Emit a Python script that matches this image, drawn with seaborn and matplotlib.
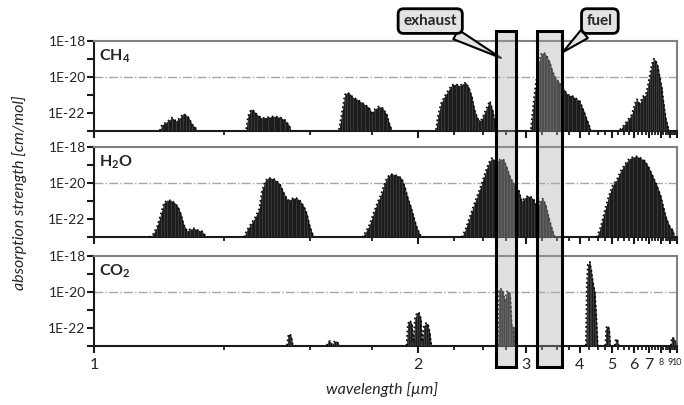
import numpy as np
import pandas as pd
import seaborn as sns
import matplotlib.pyplot as plt
import matplotlib.transforms as mtransforms
from matplotlib.patches import Rectangle
from matplotlib.ticker import FixedLocator, FuncFormatter, LogLocator, NullFormatter

sns.set_style("ticks")
plt.rcParams["font.family"] = ["Lato", "DejaVu Sans"]
plt.rcParams["mathtext.fontset"] = "custom"
plt.rcParams["mathtext.rm"] = "Lato"
plt.rcParams["mathtext.bf"] = "Lato:bold"
plt.rcParams["mathtext.it"] = "Lato:italic"

# band envelopes: wavelength [um], log10(strength [cm/mol])
ch4_wl = [
    [1.113, 1.117, 1.129, 1.137, 1.145, 1.153, 1.159, 1.166, 1.172, 1.178, 1.187],
    [1.307, 1.312, 1.320, 1.328, 1.336, 1.350, 1.367, 1.385, 1.403, 1.418, 1.431, 1.437],
    [1.608, 1.620, 1.632, 1.641, 1.653, 1.666, 1.683, 1.701, 1.719, 1.737, 1.751, 1.766,
     1.785, 1.805, 1.825, 1.841, 1.851],
    [2.118, 2.132, 2.153, 2.175, 2.204, 2.235, 2.266, 2.298, 2.323, 2.348, 2.374, 2.400,
     2.427, 2.455, 2.483, 2.512, 2.541, 2.571, 2.602, 2.634],
    [3.071, 3.101, 3.130, 3.161, 3.192, 3.224, 3.273, 3.323, 3.375, 3.429, 3.484, 3.560,
     3.640, 3.724, 3.812, 3.904, 4.000, 4.101, 4.208, 4.291],
    [5.312, 5.492, 5.684, 5.891, 6.056, 6.171, 6.353, 6.546, 6.750, 6.894, 7.044, 7.200,
     7.364, 7.535, 7.714, 7.902, 8.100, 8.308, 8.526, 8.877],
]
ch4_exp = [
    [-23.0, -22.68, -22.46, -22.27, -22.46, -22.29, -22.07, -22.13, -22.29, -22.63, -22.85],
    [-22.9, -22.2, -21.82, -21.9, -22.1, -22.3, -22.25, -22.2, -22.25, -22.4, -22.7, -22.95],
    [-22.95, -22.0, -21.0, -20.88, -20.95, -21.15, -21.25, -21.4, -21.55, -21.7, -22.0, -21.8,
     -21.65, -21.75, -22.1, -22.7, -22.95],
    [-22.95, -22.2, -21.5, -21.15, -20.8, -20.45, -20.42, -20.5, -20.38, -20.33, -20.6, -21.1,
     -21.9, -22.35, -22.45, -22.1, -21.7, -21.35, -21.9, -22.8],
    [-22.9, -21.8, -20.8, -20.0, -19.2, -18.75, -18.65, -18.85, -19.2, -19.75, -20.1, -20.35,
     -20.7, -21.0, -21.05, -21.2, -21.35, -21.9, -22.5, -22.95],
    [-22.95, -22.7, -22.4, -22.1, -21.5, -21.25, -21.5, -21.1, -21.0, -20.5, -19.9, -19.3,
     -19.0, -19.1, -19.4, -20.0, -20.6, -21.5, -22.3, -22.95],
]

h2o_wl = [
    [1.093, 1.100, 1.108, 1.115, 1.121, 1.127, 1.135, 1.143, 1.149, 1.155, 1.161, 1.168,
     1.174, 1.183, 1.191, 1.200, 1.209],
    [1.301, 1.309, 1.320, 1.331, 1.342, 1.350, 1.359, 1.367, 1.376, 1.385, 1.394, 1.403,
     1.415, 1.427, 1.440, 1.453, 1.466, 1.480, 1.490, 1.500, 1.514],
    [1.705, 1.723, 1.742, 1.761, 1.780, 1.795, 1.810, 1.825, 1.841, 1.857, 1.873, 1.889,
     1.906, 1.923, 1.940, 1.958, 1.976, 1.994, 2.019],
    [2.314, 2.348, 2.382, 2.418, 2.455, 2.492, 2.531, 2.561, 2.592, 2.624, 2.656, 2.689,
     2.723, 2.757, 2.793, 2.830, 2.867, 2.906, 2.946, 2.986, 3.028, 3.071, 3.115, 3.161,
     3.208, 3.256, 3.306, 3.358, 3.411, 3.465],
    [4.469, 4.596, 4.730, 4.872, 5.023, 5.184, 5.355, 5.539, 5.735, 5.945, 6.171, 6.416,
     6.680, 6.968, 7.281, 7.624, 8.000, 8.308, 8.640, 9.000, 9.391, 9.672],
]
h2o_exp = [
    [-23.0, -22.85, -22.4, -21.7, -21.1, -20.95, -20.95, -21.1, -21.3, -21.7, -22.3, -22.65,
     -22.55, -22.5, -22.6, -22.65, -22.95],
    [-23.0, -22.6, -22.25, -21.9, -21.45, -20.4, -19.9, -19.7, -19.72, -19.76, -19.9, -20.05,
     -20.55, -20.95, -20.85, -20.8, -20.95, -21.3, -21.7, -22.4, -23.0],
    [-23.0, -22.7, -22.25, -21.6, -21.0, -20.65, -20.1, -19.7, -19.5, -19.5, -19.55, -19.6,
     -19.75, -20.2, -20.8, -21.3, -21.9, -22.45, -22.95],
    [-23.0, -22.5, -21.85, -21.2, -20.6, -20.0, -19.3, -18.85, -18.6, -18.7, -18.75, -18.65,
     -18.7, -19.1, -19.6, -19.95, -20.2, -20.4, -21.0, -20.8, -20.7, -20.75, -20.9, -21.45,
     -21.0, -20.85, -21.2, -21.9, -22.5, -23.0],
    [-23.0, -22.4, -21.5, -20.7, -20.1, -19.8, -19.3, -18.95, -18.65, -18.55, -18.5, -18.6,
     -18.75, -19.1, -19.6, -20.1, -20.7, -21.4, -22.0, -22.4, -22.6, -23.0],
]

co2_wl = [
    [1.424, 1.429, 1.434, 1.438, 1.443],
    [1.561, 1.565, 1.573, 1.581, 1.588, 1.596, 1.604, 1.612],
    [1.932, 1.940, 1.952, 1.964, 1.973, 1.982, 1.994, 2.006, 2.019, 2.028, 2.038, 2.051,
     2.064, 2.077, 2.087],
    [2.656, 2.667, 2.689, 2.711, 2.734, 2.757, 2.781, 2.799, 2.817, 2.842, 2.855],
    [4.154, 4.181, 4.208, 4.263, 4.306, 4.349, 4.408, 4.454, 4.500],
    [4.747, 4.782, 4.836, 4.891, 4.928],
    [5.102, 5.143, 5.205, 5.268],
    [9.127, 9.257, 9.529, 9.818],
]
co2_exp = [
    [-23.0, -22.4, -22.35, -22.5, -23.0],
    [-23.0, -22.8, -22.75, -22.95, -22.8, -22.75, -22.85, -23.0],
    [-23.0, -21.8, -21.6, -21.8, -22.8, -21.5, -21.2, -21.15, -21.5, -22.8, -21.9, -21.75,
     -21.8, -22.3, -23.0],
    [-23.0, -19.9, -19.85, -19.95, -20.5, -20.0, -20.0, -20.2, -21.9, -21.95, -23.0],
    [-23.0, -19.5, -18.5, -18.35, -18.8, -19.45, -20.0, -21.3, -23.0],
    [-23.0, -22.0, -21.9, -22.1, -23.0],
    [-23.0, -22.65, -22.65, -23.0],
    [-23.0, -22.55, -22.6, -22.8],
]

species = ["CH$_\\mathbf{4}$", "H$_\\mathbf{2}$O", "CO$_\\mathbf{2}$"]
panel_wl = [ch4_wl, h2o_wl, co2_wl]
panel_exp = [ch4_exp, h2o_exp, co2_exp]

exhaust_band = (2.64, 2.865)
fuel_band = (3.165, 3.595)

x_major = [1, 2, 3, 4, 5, 6, 7, 8, 9, 10]
x_minor = np.arange(1.25, 10, 0.25)


# x axis runs linear in wavenumber, labelled in wavelength
def fwd(x):
    x = np.asarray(x, dtype=float)
    with np.errstate(divide="ignore", invalid="ignore"):
        return 1 - 1 / x


def inv(u):
    u = np.asarray(u, dtype=float)
    with np.errstate(divide="ignore", invalid="ignore"):
        return 1 / (1 - u)


def y_fmt(v, pos):
    e = int(round(np.log10(v)))
    return "1E%d" % e if e % 2 == 0 else ""


fig = plt.figure(figsize=(6.84, 4.05), dpi=100)
bottoms = [0.6773, 0.4141, 0.1469]
axes = []
for i in range(3):
    ax = fig.add_axes([0.1374, bottoms[i], 0.8523, 0.2222])
    ax.set_xscale("function", functions=(fwd, inv))
    ax.set_yscale("log")
    ax.set_xlim(1, 10)
    ax.set_ylim(1e-23, 1e-18)

    ax.axhline(1e-20, color="#a6a6a6", lw=1, ls="-.", zorder=1)

    rows = []
    for b, (wl, ex) in enumerate(zip(panel_wl[i], panel_exp[i])):
        s = 10.0 ** np.array(ex)
        ax.fill_between(wl, 1e-23, s, color="#1c1c1c", lw=0, zorder=2)
        ax.vlines(wl, 1e-23, s, color="#454545", lw=0.5, zorder=3)
        for w, v in zip(wl, s):
            rows.append({"wl": w, "s": v, "band": b})
    df = pd.DataFrame(rows)
    sns.lineplot(data=df, x="wl", y="s", units="band", estimator=None, sort=False,
                 color="black", lw=1.2, ls=":", ax=ax, zorder=4)
    ax.set_xlabel("")
    ax.set_ylabel("")

    ax.text(0.009, 0.83, species[i], transform=ax.transAxes, fontsize=11.5,
            fontweight="bold", ha="left", va="center")

    ax.xaxis.set_major_locator(FixedLocator(x_major))
    ax.xaxis.set_minor_locator(FixedLocator(x_minor))
    ax.xaxis.set_minor_formatter(NullFormatter())
    ax.yaxis.set_major_locator(FixedLocator([1e-23, 1e-22, 1e-21, 1e-20, 1e-19, 1e-18]))
    ax.yaxis.set_major_formatter(FuncFormatter(y_fmt))
    ax.yaxis.set_minor_locator(LogLocator(base=10, subs=np.arange(2, 10)))
    ax.yaxis.set_minor_formatter(NullFormatter())
    ax.tick_params(axis="both", which="major", direction="out", length=5, width=1.5,
                   color="#1a1a1a", labelsize=10, pad=1)
    ax.tick_params(axis="both", which="minor", direction="out", length=3, width=1.3,
                   color="#1a1a1a")
    ax.tick_params(axis="x", labelsize=11.5, pad=4)

    if i < 2:
        ax.set_xticklabels([])
    else:
        ax.set_xticklabels([str(v) for v in x_major])
        for lab in ax.get_xticklabels()[7:]:
            lab.set_fontsize(6.5)

    for side in ["top", "right"]:
        ax.spines[side].set_color("#808080")
        ax.spines[side].set_linewidth(1.5)
    for side in ["left", "bottom"]:
        ax.spines[side].set_color("#1a1a1a")
        ax.spines[side].set_linewidth(1.5)
    axes.append(ax)

# highlighted windows spanning all panels
trans = mtransforms.blended_transform_factory(axes[2].transData, fig.transFigure)
for lo, hi in [exhaust_band, fuel_band]:
    fig.add_artist(Rectangle((lo, 0.094), hi - lo, 0.829, transform=trans,
                             fc=(0.67, 0.67, 0.67, 0.37), ec="black", lw=2.2, zorder=5))

bubble = dict(boxstyle="round,pad=0.35", fc="#e3e3e3", ec="black", lw=2)
wedge = dict(arrowstyle="wedge,tail_width=0.7", fc="#e3e3e3", ec="black", lw=1.5,
             shrinkA=0, shrinkB=0)
axes[0].annotate("exhaust", xy=(2.69, 1.1e-19), xytext=(0.629, 0.948),
                 textcoords="figure fraction", ha="center", va="center", fontsize=11,
                 fontweight="bold", bbox=bubble, arrowprops=wedge, annotation_clip=False,
                 zorder=6)
axes[0].annotate("fuel", xy=(3.62, 2.3e-19), xytext=(0.877, 0.948),
                 textcoords="figure fraction", ha="center", va="center", fontsize=11,
                 fontweight="bold", bbox=bubble, arrowprops=wedge, annotation_clip=False,
                 zorder=6)

fig.text(0.028, 0.523, "absorption strength [cm/mol]", rotation=90, ha="center",
         va="center", style="italic", fontsize=11.5)
fig.text(0.558, 0.038, "wavelength [µm]", ha="center", va="center", style="italic",
         fontsize=11.5)

fig.savefig("out.png", dpi=100)
